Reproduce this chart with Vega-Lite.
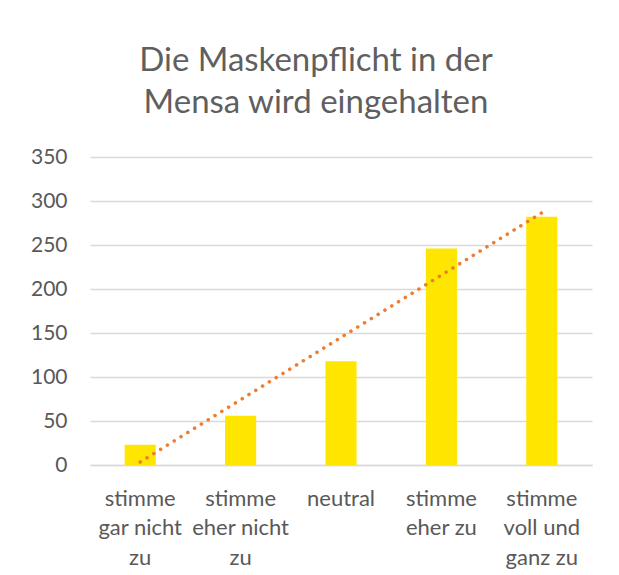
{
  "$schema": "https://vega.github.io/schema/vega-lite/v6.json",
  "autosize": {"type": "none"},
  "width": 502,
  "height": 308,
  "padding": {"left": 90, "top": 157, "right": 27, "bottom": 110},
  "background": "white",
  "title": {
    "text": ["Die Maskenpflicht in der", "Mensa wird eingehalten"],
    "font": "Lato",
    "fontSize": 33,
    "fontWeight": "normal",
    "color": "#5f5f5f",
    "lineHeight": 42,
    "anchor": "middle",
    "dx": -25,
    "offset": 26
  },
  "data": {
    "values": [
      {"kategorie": "stimme gar nicht zu", "anzahl": 23, "trend": 3.4},
      {"kategorie": "stimme eher nicht zu", "anzahl": 56, "trend": 74.2},
      {"kategorie": "neutral", "anzahl": 118, "trend": 145},
      {"kategorie": "stimme eher zu", "anzahl": 246, "trend": 215.8},
      {"kategorie": "stimme voll und ganz zu", "anzahl": 282, "trend": 286.6}
    ]
  },
  "encoding": {
    "x": {
      "field": "kategorie",
      "type": "nominal",
      "sort": null,
      "scale": {"paddingInner": 0.69, "paddingOuter": 0.345},
      "axis": {
        "title": null,
        "labelAngle": 0,
        "labelFont": "Lato",
        "labelFontSize": 22,
        "labelColor": "#595959",
        "labelLineHeight": 29.5,
        "labelPadding": 23,
        "ticks": false,
        "domainColor": "#D9D9D9",
        "domainWidth": 1.3,
        "labelExpr": "datum.value == 'stimme gar nicht zu' ? ['stimme', 'gar nicht', 'zu'] : datum.value == 'stimme eher nicht zu' ? ['stimme', 'eher nicht', 'zu'] : datum.value == 'stimme eher zu' ? ['stimme', 'eher zu'] : datum.value == 'stimme voll und ganz zu' ? ['stimme', 'voll und', 'ganz zu'] : datum.value"
      }
    }
  },
  "layer": [
    {
      "mark": {"type": "bar", "color": "#FFE600"},
      "encoding": {
        "y": {
          "field": "anzahl",
          "type": "quantitative",
          "scale": {"domain": [0, 350], "nice": false},
          "axis": {
            "title": null,
            "values": [0, 50, 100, 150, 200, 250, 300, 350],
            "labelFont": "Lato",
            "labelFontSize": 21,
            "labelColor": "#595959",
            "labelPadding": 23,
            "ticks": false,
            "domain": false,
            "gridColor": "#D9D9D9",
            "gridWidth": 1.3
          }
        }
      }
    },
    {
      "mark": {"type": "line", "color": "#ED7D31", "strokeWidth": 3.5, "strokeDash": [0.1, 7.9], "strokeCap": "round"},
      "encoding": {
        "y": {"field": "trend", "type": "quantitative"}
      }
    }
  ],
  "config": {"view": {"stroke": null}}
}
